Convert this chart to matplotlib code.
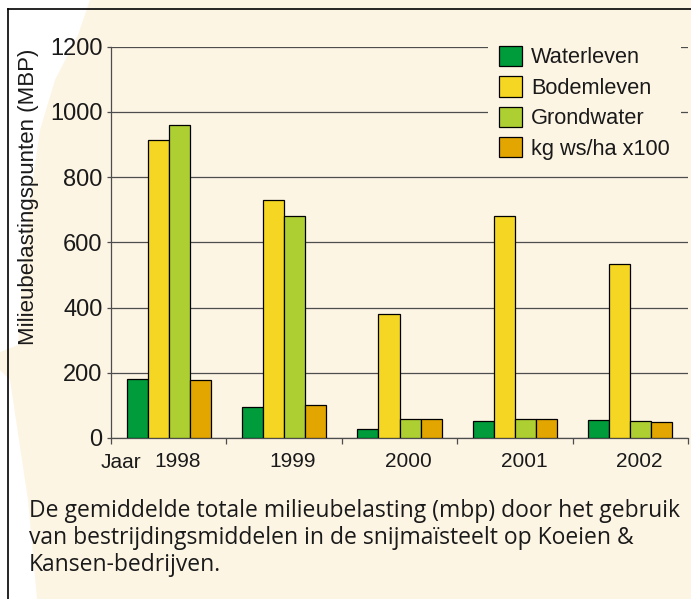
import numpy as np
import matplotlib.pyplot as plt
import matplotlib
from matplotlib.patches import Polygon
from matplotlib.lines import Line2D
from matplotlib.transforms import ScaledTranslation

matplotlib.rc('font', family=['Liberation Sans', 'DejaVu Sans'])

years = ['1998', '1999', '2000', '2001', '2002']
series = ['Waterleven', 'Bodemleven', 'Grondwater', 'kg ws/ha x100']
waterleven = [181, 96, 28, 53, 56]
bodemleven = [915, 729, 380, 682, 535]
grondwater = [961, 680, 57, 58, 51]
kg_ws = [178, 100, 58, 58, 49]
colors = ['#009B3A', '#F5D622', '#AECF32', '#E3A600']

W, H = 691, 599
cream = '#FDF5E4'
ink = '#1a1a1a'

def fx(x, y):
    return (x / W, 1 - y / H)

fig = plt.figure(figsize=(W / 100, H / 100), dpi=100)
fig.patch.set_facecolor('white')

# cream background shape, leaving the lighter wedges on the left
shape = [fx(90, 0), fx(W, 0), fx(W, H), fx(37, H), fx(28, 500), fx(10, 380),
         fx(0, 370), fx(0, 352), fx(18, 345), fx(22, 280), fx(30, 200),
         fx(40, 130), fx(55, 80), fx(78, 35)]
fig.patches.append(Polygon(shape, closed=True, transform=fig.transFigure,
                           facecolor=cream, edgecolor='none', zorder=-2))
# frame lines
fig.lines.append(Line2D([8 / W, 1], [1 - 9 / H] * 2, transform=fig.transFigure,
                        color='black', lw=1.2, zorder=-1))
fig.lines.append(Line2D([8 / W] * 2, [0, 1 - 9 / H], transform=fig.transFigure,
                        color='black', lw=1.2, zorder=-1))

ax = fig.add_axes([111 / W, 1 - 438 / H, (688 - 111) / W, (438 - 46.7) / H])
ax.set_facecolor('none')
ax.set_zorder(1)

x = np.arange(len(years))
bw = 0.182
data = [waterleven, bodemleven, grondwater, kg_ws]
for i, (vals, c, name) in enumerate(zip(data, colors, series)):
    ax.bar(x + (i - 1.5) * bw, vals, bw, color=c, edgecolor='black',
           linewidth=0.9, label=name, zorder=3)

ax.set_xlim(-0.5, 4.5)
ax.set_ylim(0, 1200)
ax.set_yticks(np.arange(0, 1201, 200))
ax.yaxis.grid(True, color='#4d4d4d', lw=0.9)
ax.set_axisbelow(True)
for s in ['top', 'right']:
    ax.spines[s].set_visible(False)
for s in ['left', 'bottom']:
    ax.spines[s].set_color('#4d4d4d')
    ax.spines[s].set_linewidth(0.9)

ax.set_xticks(np.arange(-0.5, 4.6, 1))
ax.set_xticklabels([])
ax.set_xticks(x, minor=True)
ax.set_xticklabels(years, minor=True, fontsize=15, color=ink)
ax.tick_params(axis='x', which='major', length=4, width=0.9, color='#4d4d4d')
ax.tick_params(axis='x', which='minor', length=0, pad=10)
ax.tick_params(axis='y', length=3, width=0.9, color='#4d4d4d', pad=3,
               labelsize=17, labelcolor=ink)
for lbl in ax.get_xticklabels(minor=True):
    lbl.set_transform(lbl.get_transform() + ScaledTranslation(9 / 100, 0, fig.dpi_scale_trans))

leg = ax.legend(loc='upper left', bbox_to_anchor=fx(488, 35), bbox_transform=fig.transFigure,
                fontsize=15.7, frameon=True, fancybox=False, borderpad=0.5, borderaxespad=0,
                handlelength=1.05, handleheight=1.05, handletextpad=0.42, labelspacing=0.36)
leg.get_frame().set_facecolor(cream)
leg.get_frame().set_edgecolor('none')
leg.get_frame().set_alpha(1)
for t in leg.get_texts():
    t.set_color(ink)

fig.text(29 / W, 1 - 197 / H, 'Milieubelastingspunten (MBP)', rotation=90,
         ha='center', va='center', fontsize=16, color=ink)
fig.text(101 / W, 1 - 468 / H, 'Jaar', ha='left', va='baseline', fontsize=15, color=ink)

caption = ('De gemiddelde totale milieubelasting (mbp) door het gebruik\n'
           'van bestrijdingsmiddelen in de snijmaïsteelt op Koeien &\n'
           'Kansen-bedrijven.')
fig.text(29 / W, 1 - 499 / H, caption, ha='left', va='top', fontsize=16.5,
         color=ink, linespacing=1.16, family=['Open Sans', 'DejaVu Sans'])

fig.savefig('out.png', dpi=100, facecolor=fig.get_facecolor())
